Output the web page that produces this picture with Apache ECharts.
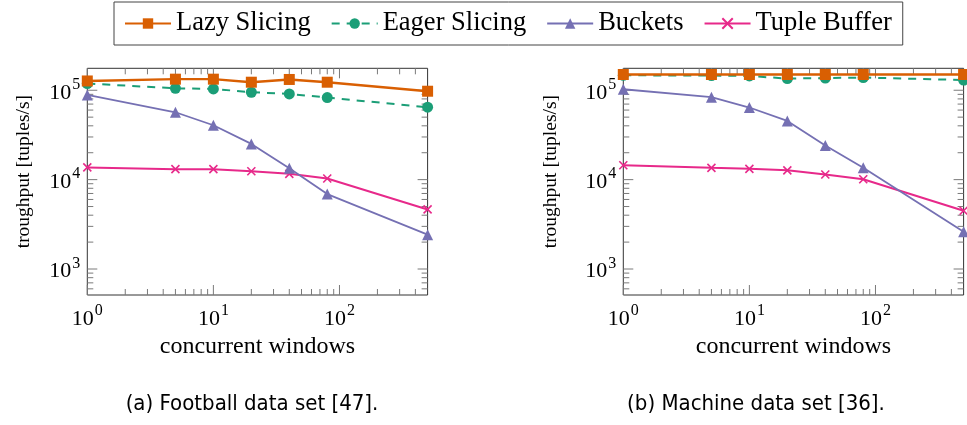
<!DOCTYPE html>
<html>
<head>
<meta charset="utf-8">
<script src="https://cdn.jsdelivr.net/npm/echarts@6/dist/echarts.min.js"></script>
<style>
  html, body { margin: 0; padding: 0; background: #fff; }
  #chart { width: 967px; height: 425px; }
</style>
</head>
<body>
<div id="chart"></div>
<script>
// ---- data ----
const windows = [1, 5, 10, 20, 40, 80, 500];
const seriesNames = ['Lazy Slicing', 'Eager Slicing', 'Buckets', 'Tuple Buffer'];

const footballLazy    = [127000, 133000, 133000, 123000, 132000, 123000, 97500];
const footballEager   = [119000, 105000, 103500, 95000, 91000, 82800, 64600];
const footballBuckets = [88700, 56700, 40600, 25100, 13400, 6890, 2420];
const footballTuple   = [13700, 13100, 13100, 12400, 11600, 10300, 4640];

const machineLazy    = [150000, 150000, 150000, 150000, 150000, 150000, 150000];
const machineEager   = [147000, 146000, 144500, 135000, 137000, 138700, 130000];
const machineBuckets = [102600, 83600, 64100, 45400, 24100, 13600, 2610];
const machineTuple   = [14500, 13550, 13200, 12700, 11400, 10100, 4480];

const xMajorTicks = [1, 10, 100];
const xMinorTicks = [2, 3, 4, 5, 6, 7, 8, 9, 20, 30, 40, 50, 60, 70, 80, 90, 200, 300, 400];
const yMajorTicks = [1000, 10000, 100000];
const yMinorTicks = [600, 700, 800, 900, 2000, 3000, 4000, 5000, 6000, 7000, 8000, 9000,
                     20000, 30000, 40000, 50000, 60000, 70000, 80000, 90000];

const xAxisTitle = 'concurrent windows';
const yAxisTitle = 'troughput [tuples/s]';
const captions = ['(a) Football data set [47].', '(b) Machine data set [36].'];

// ---- styling ----
const X_MIN = 1, X_MAX = 500, Y_MIN = 512, Y_MAX = 176000;
const serif = "'Liberation Serif', 'DejaVu Serif', serif";
const capFont = "'Liberation Sans Narrow', 'DejaVu Sans Condensed', 'DejaVu Sans', sans-serif";
const colors = ['#D95F02', '#1B9E77', '#7570B3', '#E7298A'];
const symbols = ['rect', 'circle', 'triangle', 'path://M0,0L10,10M10,0L0,10'];
const symbolSizes = [11, 11, 11, 8];
const lineWidths = [2.4, 2, 1.8, 2];
const lineTypes = ['solid', [8, 7], 'solid', 'solid'];

const grids = [
  { left: 87.3, top: 68.3, width: 340.3, height: 226.7 },
  { left: 623.3, top: 68.3, width: 340.3, height: 226.7 }
];

function powLabel(v) {
  const l = Math.log10(v);
  const e = Math.round(l);
  if (Math.abs(l - e) > 1e-6) return '';
  return '{b|10}{s|' + e + '}';
}
const richLabel = {
  b: { fontSize: 22, fontFamily: serif, color: '#000', verticalAlign: 'bottom', lineHeight: 27 },
  s: { fontSize: 16, fontFamily: serif, color: '#000', verticalAlign: 'top', lineHeight: 16, padding: [0, 0, 0, 1] }
};

const xAxes = [], yAxes = [], series = [];
const panelData = [
  [footballLazy, footballEager, footballBuckets, footballTuple],
  [machineLazy, machineEager, machineBuckets, machineTuple]
];
const yNameGaps = [53, 62];

grids.forEach((g, gi) => {
  xAxes.push({
    type: 'log', logBase: 10, gridIndex: gi, min: X_MIN, max: X_MAX,
    name: xAxisTitle, nameLocation: 'middle', nameGap: 37,
    nameTextStyle: { fontFamily: serif, fontSize: 24, color: '#000' },
    axisLine: { show: false }, axisTick: { show: false }, splitLine: { show: false },
    minorTick: { show: false },
    axisLabel: { formatter: powLabel, rich: richLabel, margin: 8 }
  });
  yAxes.push({
    type: 'log', logBase: 10, gridIndex: gi, min: Y_MIN, max: Y_MAX,
    name: yAxisTitle, nameLocation: 'middle', nameGap: yNameGaps[gi], nameRotate: 90,
    nameTextStyle: { fontFamily: serif, fontSize: 19.5, color: '#000', padding: [0, 0, 0, 20] },
    axisLine: { show: false }, axisTick: { show: false }, splitLine: { show: false },
    minorTick: { show: false },
    axisLabel: { formatter: powLabel, rich: richLabel, margin: 7 }
  });
  // tick marks drawn through the axes' own scales
  const tickData = [];
  xMajorTicks.forEach(v => tickData.push([v, Y_MIN, 0]));
  xMinorTicks.forEach(v => tickData.push([v, Y_MIN, 1]));
  yMajorTicks.forEach(v => tickData.push([X_MIN, v, 2]));
  yMinorTicks.forEach(v => tickData.push([X_MIN, v, 3]));
  series.push({
    type: 'custom', xAxisIndex: gi, yAxisIndex: gi, silent: true, z: 1,
    data: tickData,
    renderItem: function (params, api) {
      const kind = api.value(2);
      const cs = params.coordSys;
      const len = (kind === 0 || kind === 2) ? 10 : 6;
      const style = { stroke: '#7a7a7a', lineWidth: 1 };
      if (kind <= 1) {
        const px = api.coord([api.value(0), Y_MIN])[0];
        const yb = cs.y + cs.height, yt = cs.y;
        return { type: 'group', children: [
          { type: 'line', shape: { x1: px, y1: yb, x2: px, y2: yb - len }, style },
          { type: 'line', shape: { x1: px, y1: yt, x2: px, y2: yt + len }, style }
        ]};
      } else {
        const py = api.coord([X_MIN, api.value(1)])[1];
        const xl = cs.x, xr = cs.x + cs.width;
        return { type: 'group', children: [
          { type: 'line', shape: { x1: xl, y1: py, x2: xl + len, y2: py }, style },
          { type: 'line', shape: { x1: xr, y1: py, x2: xr - len, y2: py }, style }
        ]};
      }
    }
  });
  panelData[gi].forEach((vals, si) => {
    series.push({
      type: 'line', name: seriesNames[si], xAxisIndex: gi, yAxisIndex: gi,
      data: windows.map((w, i) => [w, vals[i]]),
      symbol: symbols[si], symbolSize: symbolSizes[si], showAllSymbol: true,
      clip: false, z: 3 + (3 - si),
      itemStyle: si === 3 ? { color: 'none', borderColor: colors[si], borderWidth: 1.6 } : { color: colors[si] },
      lineStyle: { color: colors[si], width: lineWidths[si], type: lineTypes[si] },
      emphasis: { disabled: true }, animation: false
    });
  });
});

const chart = echarts.init(document.getElementById('chart'));
chart.setOption({
  animation: false,
  backgroundColor: '#fff',
  grid: grids.map(g => Object.assign({ show: true, borderColor: '#333', borderWidth: 1, backgroundColor: 'transparent' }, g)),
  xAxis: xAxes,
  yAxis: yAxes,
  legend: {
    data: seriesNames, left: 114, top: 2, orient: 'horizontal',
    padding: [8, 11, 8, 10], itemGap: 20, itemWidth: 46, itemHeight: 13,
    borderColor: '#444', borderWidth: 1,
    textStyle: { fontFamily: serif, fontSize: 26.5, color: '#000' },
    selectedMode: false
  },
  title: [
    { text: captions[0], left: 247, top: 388, textAlign: 'center',
      textStyle: { fontFamily: capFont, fontSize: 22, fontWeight: 'normal', color: '#000' } },
    { text: captions[1], left: 751, top: 388, textAlign: 'center',
      textStyle: { fontFamily: capFont, fontSize: 22, fontWeight: 'normal', color: '#000' } }
  ],
  series: series
});
</script>
</body>
</html>
